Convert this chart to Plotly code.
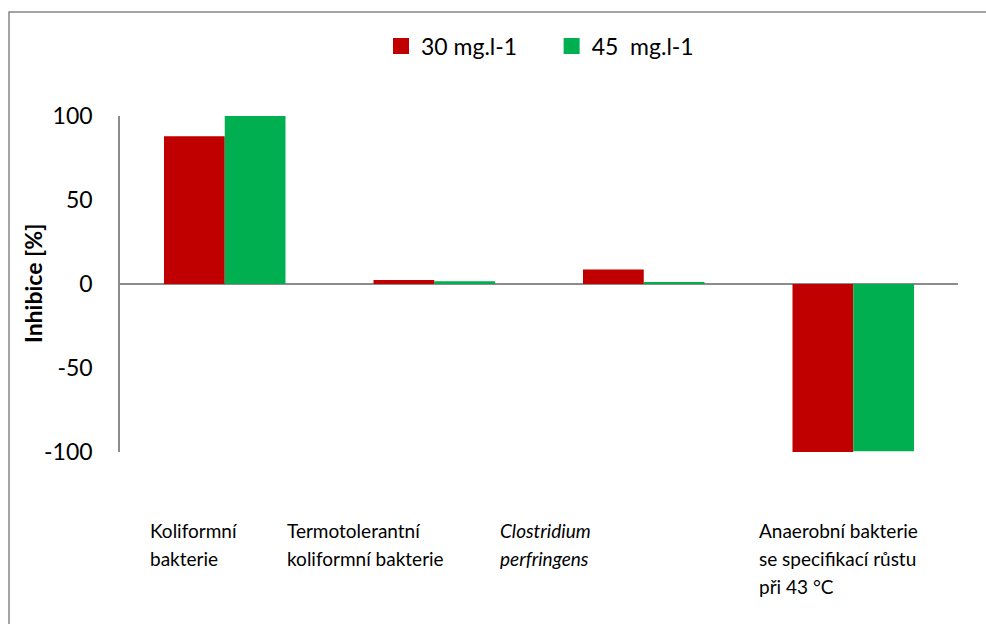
import plotly.graph_objects as go

categories = [["Koliformní", "bakterie"],
              ["Termotolerantní", "koliformní bakterie"],
              ["<i>Clostridium</i>", "<i>perfringens</i>"],
              ["Anaerobní bakterie", "se specifikací růstu", "při 43 °C"]]
series_names = ["30 mg.l-1", "45\u00a0 mg.l-1"]
series_colors = ["#C00000", "#00B050"]
values_30 = [88, 2.4, 8.6, -100]
values_45 = [100, 1.6, 0.8, -99.5]
y_ticks = [-100, -50, 0, 50, 100]
y_tick_text = ["-100", "-50", "0", "50", "100"]
label_shift = [-77, -149, -146, -96]

FONT = "Lato"
x_idx = list(range(len(categories)))

fig = go.Figure()
for vals, name, col in zip([values_30, values_45], series_names, series_colors):
    fig.add_trace(go.Bar(x=x_idx, y=vals, name=name, showlegend=False,
                         marker=dict(color=col, line=dict(width=0))))
# legend entries with larger square swatches
pads = ["\u00a0" * 5, ""]
for name, col, pad in zip(series_names, series_colors, pads):
    fig.add_trace(go.Scatter(x=[None], y=[None], mode="markers", name=name + pad,
                             marker=dict(symbol="square", size=16, color=col)))

for i, lines in enumerate(categories):
    for k, line in enumerate(lines):
        fig.add_annotation(x=i, y=0, xref="x", yref="paper", yanchor="middle",
                           xanchor="left", align="left", text=line, showarrow=False,
                           xshift=label_shift[i], yshift=-78 - 28 * k,
                           font=dict(family=FONT, size=19, color="#000000"))

fig.add_annotation(x=(33 - 120) / 838, y=(452 - 284) / 336, xref="paper", yref="paper",
                   text="<b>Inhibice [%]</b>", textangle=-90, showarrow=False,
                   xanchor="center", yanchor="middle",
                   font=dict(family=FONT, size=23, color="#000000"))

# outer chart border
fig.add_shape(type="rect", xref="paper", yref="paper",
              x0=(9 - 120) / 838, x1=1.2, y0=-0.8, y1=(452 - 12) / 336,
              line=dict(color="#868686", width=1.5), fillcolor="rgba(0,0,0,0)",
              layer="below")

fig.update_layout(
    width=986, height=624,
    margin=dict(l=120, r=28, t=116, b=172),
    paper_bgcolor="white", plot_bgcolor="white",
    barmode="group", bargap=0.42, bargroupgap=0,
    font=dict(family=FONT, color="#000000"),
    showlegend=True,
    legend=dict(orientation="h", x=(540 - 120) / 838, y=(452 - 46) / 336,
                xanchor="center", yanchor="middle",
                font=dict(family=FONT, size=23),
                itemwidth=30, itemsizing="trace",
                bgcolor="rgba(0,0,0,0)", traceorder="normal"),
    xaxis=dict(range=[-0.5, 3.5], showticklabels=False, showgrid=False,
               zeroline=False, showline=False, ticks=""),
    yaxis=dict(range=[-100, 100], tickvals=y_ticks, ticktext=y_tick_text,
               showgrid=False,
               zeroline=True, zerolinecolor="#8C8C8C", zerolinewidth=1.5,
               showline=True, linecolor="#8C8C8C", linewidth=1.5,
               ticks="", ticklabelstandoff=21,
               tickfont=dict(family=FONT, size=23, color="#000000")),
)

fig.write_html("out.html")
